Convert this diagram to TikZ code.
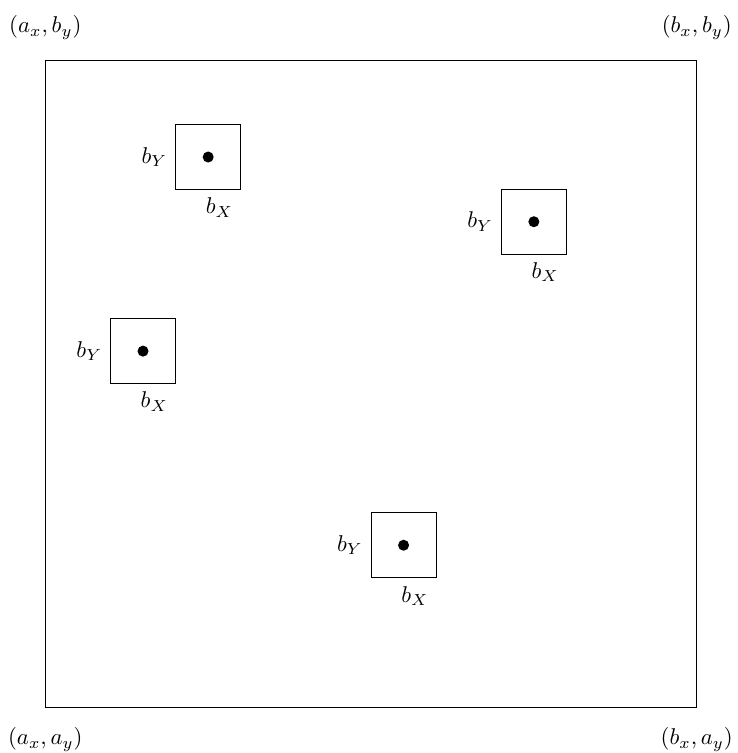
\documentclass[tikz,border=0pt]{standalone}
\begin{document}
\begin{tikzpicture}[x=1.0037cm,y=0.9969cm,
  cell/.style={draw,minimum size=1cm,inner sep=0pt},
  pt/.style={fill,circle,inner sep=0pt,minimum size=0.17cm},
  lab/.style={inner sep=3.33pt}]
\useasboundingbox (-0.698cm,-0.709cm) rectangle (10.658cm,10.893cm);
\coordinate (sw) at (0,0);
\coordinate (ne) at (10,10);
\draw (sw) rectangle (ne);
\node[lab] (tl) at (0,10.5) {$(a_x,b_y)$};
\node[lab] (tr) at (10,10.5) {$(b_x,b_y)$};
\node[lab] (bl) at (0,-0.5) {$(a_x,a_y)$};
\node[lab] (br) at (10,-0.5) {$(b_x,a_y)$};
\foreach \n/\x/\y in {p1/2.5/8.5, p2/7.5/7.5, p3/1.5/5.5, p4/5.5/2.5}{
  \node[cell] (\n) at (\x,\y) {};
  \node[pt] (\n d) at (\n.center) {};
  \node[lab,anchor=east] (\n y) at (\n.west) {$b_Y$};
  \node[lab,anchor=north east] (\n x) at (\n.south east) {$b_X$};
}
\end{tikzpicture}
\end{document}
